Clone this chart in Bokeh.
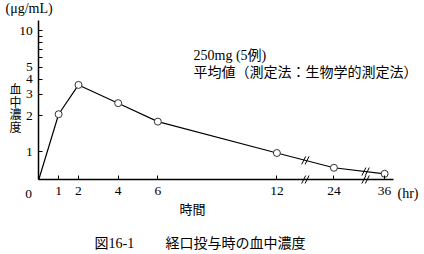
import numpy as np
from bokeh.plotting import figure
from bokeh.models import FixedTicker, CustomJSTickFormatter, Label, Range1d, LinearAxis, LogAxis
from bokeh.embed import file_html
from bokeh.resources import INLINE

# ---- data ----
times = [0, 1, 2, 4, 6, 12, 24, 36]
conc = [0.0, 2.05, 3.58, 2.53, 1.78, 0.98, 0.74, 0.66]
x_ticks_hr = [1, 2, 4, 6, 12, 24, 36]
x_tick_labels = ["1", "2", "4", "6", "12", "24", "36"]
y_ticks = [1, 2, 3, 4, 5, 10]
y_minor = [6, 7, 8, 9]
breaks_hr = [18, 31.5]

# broken time axis: (start hr, end hr, display units per hr)
SEG = [(0, 12, 1.0), (12, 24, 0.2395), (24, 36, 0.213)]


def tmap(t):
    pos = 0.0
    for a, b, k in SEG:
        if t <= b:
            return pos + (t - a) * k
        pos += (b - a) * k
    return pos


W, H = 424, 254
X0_PX, Y0_PX = 38.3, 179.0      # canvas position of the axes' corner
PXU = 19.84                      # px per display unit on x
PXD = 121.0                      # px per decade on y
Y_BASE = 0.592                   # value drawn at the x-axis
X_AX_END = 17.89
Y_AX_END = 12.2

x_start = -X0_PX / PXU
x_end = (W - X0_PX) / PXU
y_end = 10 ** (np.log10(Y_BASE) + Y0_PX / PXD)
y_start = 10 ** (np.log10(Y_BASE) - (H - Y0_PX) / PXD)

SERIF = "'Liberation Serif', 'Noto Sans CJK JP'"
CJK = "'Noto Sans CJK JP'"

p = figure(width=W, height=H, output_backend="svg", toolbar_location=None,
           x_axis_location=None, y_axis_location=None,
           x_range=Range1d(x_start, x_end), y_range=Range1d(y_start, y_end),
           y_axis_type="log",
           min_border_left=0, min_border_right=0, min_border_top=0, min_border_bottom=0)
p.outline_line_color = None
p.grid.visible = False
p.background_fill_color = "white"
p.border_fill_color = "white"

xpos = [tmap(t) for t in x_ticks_hr]
xaxis = LinearAxis(ticker=FixedTicker(ticks=xpos),
                   formatter=CustomJSTickFormatter(args=dict(labs=x_tick_labels), code="return labs[index];"),
                   fixed_location=Y_BASE, bounds=(0, X_AX_END))
yaxis = LogAxis(ticker=FixedTicker(ticks=y_ticks, minor_ticks=y_minor),
                formatter=CustomJSTickFormatter(code="return String(Math.round(tick));"),
                fixed_location=0, bounds=(Y_BASE, Y_AX_END))
for ax in (xaxis, yaxis):
    ax.axis_line_color = "black"
    ax.axis_line_width = 1.5
    ax.major_tick_in = 4
    ax.major_tick_out = 0
    ax.major_tick_line_color = "black"
    ax.major_tick_line_width = 1
    ax.major_label_text_font = SERIF
    ax.major_label_text_font_size = "13.5px"
    ax.major_label_text_color = "black"
xaxis.minor_tick_line_color = None
xaxis.major_label_standoff = 7
yaxis.minor_tick_in = 4
yaxis.minor_tick_out = 0
yaxis.minor_tick_line_color = "black"
yaxis.major_label_standoff = 6
p.add_layout(xaxis, "below")
p.add_layout(yaxis, "left")

# series
xs = [tmap(t) for t in times]
ys = [max(c, Y_BASE) for c in conc]
p.line(xs, ys, line_color="black", line_width=1.2)
p.scatter(xs[1:], ys[1:], marker="circle", size=7, fill_color="white",
          line_color="#333333", line_width=1)

# break marks
logy = np.log10(ys)
for b in breaks_hr:
    bx = tmap(b)
    by = 10 ** np.interp(bx, xs, logy)
    for yy in (by, Y_BASE):
        for off in (-1.7, 1.7):
            x0 = bx + (off - 2) / PXU
            x1 = bx + (off + 2) / PXU
            y0 = yy * 10 ** (-4 / PXD)
            y1 = yy * 10 ** (4 / PXD)
            p.segment(x0=[x0], y0=[y0], x1=[x1], y1=[y1], line_color="black", line_width=1)


# texts (canvas pixel positions; frame = whole canvas)
def lab(text, cx, cy, size, align="left", font=SERIF):
    p.add_layout(Label(x=cx, y=H - cy, x_units="screen", y_units="screen",
                       text=text, text_align=align, text_baseline="middle",
                       text_font=font, text_font_size=size, text_color="black"))


lab("(μg/mL)", 5, 8, "14px")
for i, ch in enumerate("血中濃度"):
    lab(ch, 15, 88 + 12.5 * i, "12px", align="center", font=CJK)
lab("250mg (5例)", 193, 55, "14px")
lab("平均値（測定法：生物学的測定法）", 193, 72, "14px")
lab("0", 28, 193, "13.5px", align="center")
lab("(hr)", 397, 193, "14px")
lab("時間", 192, 208, "13px", align="center", font=CJK)
lab("図16-1", 94, 243, "14px")
lab("経口投与時の血中濃度", 165, 243, "14px")

open("out.html", "w").write(file_html(p, INLINE))
